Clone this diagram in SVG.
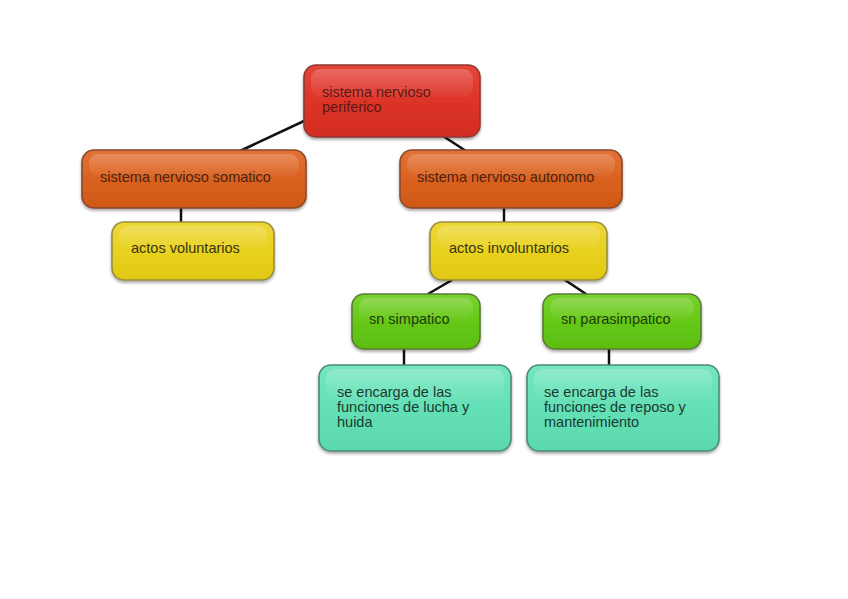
<svg xmlns="http://www.w3.org/2000/svg" width="848" height="599" viewBox="0 0 848 599">
<defs>
  <filter id="sh" x="-10%" y="-10%" width="120%" height="130%">
    <feDropShadow dx="0" dy="2" stdDeviation="1.6" flood-color="#000" flood-opacity="0.35"/>
  </filter>
  <linearGradient id="gRed" x1="0" y1="0" x2="0" y2="1">
    <stop offset="0" stop-color="#e5443a"/><stop offset="0.5" stop-color="#dd3428"/><stop offset="1" stop-color="#d22c20"/>
  </linearGradient>
  <linearGradient id="gOr" x1="0" y1="0" x2="0" y2="1">
    <stop offset="0" stop-color="#e27238"/><stop offset="0.5" stop-color="#da6220"/><stop offset="1" stop-color="#cf5816"/>
  </linearGradient>
  <linearGradient id="gYe" x1="0" y1="0" x2="0" y2="1">
    <stop offset="0" stop-color="#eed838"/><stop offset="0.5" stop-color="#e8d21e"/><stop offset="1" stop-color="#e0c814"/>
  </linearGradient>
  <linearGradient id="gGr" x1="0" y1="0" x2="0" y2="1">
    <stop offset="0" stop-color="#78d230"/><stop offset="0.5" stop-color="#66c816"/><stop offset="1" stop-color="#5cbe10"/>
  </linearGradient>
  <linearGradient id="gTe" x1="0" y1="0" x2="0" y2="1">
    <stop offset="0" stop-color="#74e6c0"/><stop offset="0.5" stop-color="#64e0b6"/><stop offset="1" stop-color="#5ad8ac"/>
  </linearGradient>
  <linearGradient id="gloss" x1="0" y1="0" x2="0" y2="1">
    <stop offset="0" stop-color="#fff" stop-opacity="0.2"/><stop offset="1" stop-color="#fff" stop-opacity="0.03"/>
  </linearGradient>
</defs>
<style>
  .box { stroke-width: 1.6; filter: url(#sh); }
  .red { fill: url(#gRed); stroke: #8e3a32; }
  .or { fill: url(#gOr); stroke: #8a4a2c; }
  .ye { fill: url(#gYe); stroke: #9a8c40; }
  .gr { fill: url(#gGr); stroke: #5a7c34; }
  .te { fill: url(#gTe); stroke: #4c8a74; }
  .gl { fill: url(#gloss); stroke: none; }
  text { font-family: "Liberation Sans", Arial, sans-serif; font-size: 14.5px; }
  .tr { fill: #5a1a14; }
  .to { fill: #4a2212; }
  .ty { fill: #3a3410; }
  .tg { fill: #1e3a0a; }
  .tt { fill: #1a3a30; }
  .conn line { stroke: #111; stroke-width: 2.5; stroke-linecap: round; }
</style>
<rect width="848" height="599" fill="#fff"/>
<g id="connectors" class="conn">
  <line x1="304" y1="121" x2="240" y2="151"/>
  <line x1="443" y1="136" x2="466" y2="151"/>
  <line x1="181" y1="208" x2="181" y2="222"/>
  <line x1="504" y1="208" x2="504" y2="222"/>
  <line x1="452" y1="280" x2="428" y2="294"/>
  <line x1="565" y1="280" x2="586" y2="294"/>
  <line x1="404" y1="349" x2="404" y2="365"/>
  <line x1="609" y1="349" x2="609" y2="365"/>
</g>
<g id="n_periferico">
  <rect class="box red" x="304" y="65" width="176" height="72" rx="12"/>
  <rect class="gl" x="311" y="69" width="162" height="28" rx="9"/>
  <text class="tr" x="322" y="97">sistema nervioso</text>
  <text class="tr" x="322" y="112">periferico</text>
</g>
<g id="n_somatico">
  <rect class="box or" x="82" y="150" width="224" height="58" rx="12"/>
  <rect class="gl" x="89" y="154" width="210" height="22" rx="9"/>
  <text class="to" x="100" y="182">sistema nervioso somatico</text>
</g>
<g id="n_autonomo">
  <rect class="box or" x="400" y="150" width="222" height="58" rx="12"/>
  <rect class="gl" x="407" y="154" width="208" height="22" rx="9"/>
  <text class="to" x="417" y="182">sistema nervioso autonomo</text>
</g>
<g id="n_voluntarios">
  <rect class="box ye" x="112" y="222" width="162" height="58" rx="12"/>
  <rect class="gl" x="119" y="226" width="148" height="22" rx="9"/>
  <text class="ty" x="131" y="253">actos voluntarios</text>
</g>
<g id="n_involuntarios">
  <rect class="box ye" x="430" y="222" width="177" height="58" rx="12"/>
  <rect class="gl" x="437" y="226" width="163" height="22" rx="9"/>
  <text class="ty" x="449" y="253">actos involuntarios</text>
</g>
<g id="n_simpatico">
  <rect class="box gr" x="352" y="294" width="128" height="55" rx="12"/>
  <rect class="gl" x="359" y="298" width="114" height="21" rx="9"/>
  <text class="tg" x="369" y="324">sn simpatico</text>
</g>
<g id="n_parasimpatico">
  <rect class="box gr" x="543" y="294" width="158" height="55" rx="12"/>
  <rect class="gl" x="550" y="298" width="144" height="21" rx="9"/>
  <text class="tg" x="561" y="324">sn parasimpatico</text>
</g>
<g id="n_lucha">
  <rect class="box te" x="319" y="365" width="192" height="86" rx="12"/>
  <rect class="gl" x="326" y="369" width="178" height="30" rx="9"/>
  <text class="tt" x="337" y="397">se encarga de las</text>
  <text class="tt" x="337" y="412">funciones de lucha y</text>
  <text class="tt" x="337" y="427">huida</text>
</g>
<g id="n_reposo">
  <rect class="box te" x="527" y="365" width="192" height="86" rx="12"/>
  <rect class="gl" x="534" y="369" width="178" height="30" rx="9"/>
  <text class="tt" x="544" y="397">se encarga de las</text>
  <text class="tt" x="544" y="412">funciones de reposo y</text>
  <text class="tt" x="544" y="427">mantenimiento</text>
</g>
</svg>
